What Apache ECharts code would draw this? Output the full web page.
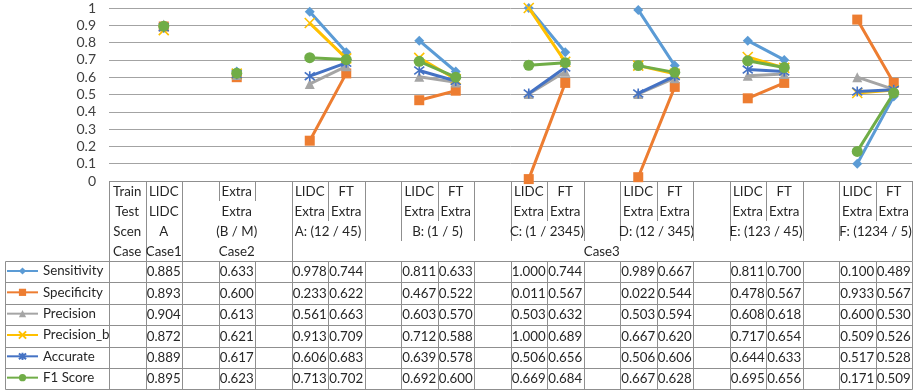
<!DOCTYPE html>
<html>
<head>
<meta charset="utf-8">
<script src="https://cdn.jsdelivr.net/npm/echarts@6/dist/echarts.min.js"></script>
<style>
  html, body { margin: 0; padding: 0; background: #fff; }
  #chart { width: 916px; height: 391px; }
</style>
</head>
<body>
<div id="chart"></div>
<script>
// Column headers of the data table, one entry per category slot
const trainRow = ['Train','LIDC','','Extra','','LIDC','FT','','LIDC','FT','','LIDC','FT','','LIDC','FT','','LIDC','FT','','LIDC','FT'];
// Merged header rows: [firstColumn, lastColumn, label]
const testGroups = [[0,0,'Test'],[1,1,'LIDC'],[2,4,'Extra'],[5,5,'Extra'],[6,6,'Extra'],[7,7,''],[8,8,'Extra'],[9,9,'Extra'],[10,10,''],[11,11,'Extra'],[12,12,'Extra'],[13,13,''],[14,14,'Extra'],[15,15,'Extra'],[16,16,''],[17,17,'Extra'],[18,18,'Extra'],[19,19,''],[20,20,'Extra'],[21,21,'Extra']];
const scenGroups = [[0,0,'Scen'],[1,1,'A'],[2,4,'(B / M)'],[5,6,'A: (12 / 45)'],[7,7,''],[8,9,'B: (1 / 5)'],[10,10,''],[11,12,'C: (1 / 2345)'],[13,13,''],[14,15,'D: (12 / 345)'],[16,16,''],[17,18,'E: (123 / 45)'],[19,19,''],[20,21,'F: (1234 / 5)']];
const caseGroups = [[0,0,'Case'],[1,1,'Case1'],[2,4,'Case2'],[5,21,'Case3']];

// Metric values per column (null = empty column)
const sensitivity = [null,0.885,null,0.633,null,0.978,0.744,null,0.811,0.633,null,1.000,0.744,null,0.989,0.667,null,0.811,0.700,null,0.100,0.489];
const specificity = [null,0.893,null,0.600,null,0.233,0.622,null,0.467,0.522,null,0.011,0.567,null,0.022,0.544,null,0.478,0.567,null,0.933,0.567];
const precision   = [null,0.904,null,0.613,null,0.561,0.663,null,0.603,0.570,null,0.503,0.632,null,0.503,0.594,null,0.608,0.618,null,0.600,0.530];
const precisionB  = [null,0.872,null,0.621,null,0.913,0.709,null,0.712,0.588,null,1.000,0.689,null,0.667,0.620,null,0.717,0.654,null,0.509,0.526];
const accurate    = [null,0.889,null,0.617,null,0.606,0.683,null,0.639,0.578,null,0.506,0.656,null,0.506,0.606,null,0.644,0.633,null,0.517,0.528];
const f1Score     = [null,0.895,null,0.623,null,0.713,0.702,null,0.692,0.600,null,0.669,0.684,null,0.667,0.628,null,0.695,0.656,null,0.171,0.509];

const seriesNames = ['Sensitivity','Specificity','Precision','Precision_b','Accurate','F1 Score'];
const seriesValues = [sensitivity, specificity, precision, precisionB, accurate, f1Score];
const seriesColors = ['#5B9BD5','#ED7D31','#A5A5A5','#FFC000','#4472C4','#70AD47'];
const seriesSymbols = [
  'diamond',
  'rect',
  'triangle',
  'path://M0,0L10,10M10,0L0,10',
  'path://M0,0L10,10M10,0L0,10M5,-1.5L5,11.5',
  'circle'
];
const symbolSizes = [10, 10, 10, 10, 10, 11];
const strokedSymbol = [false, false, false, true, true, false];

// Category keys for the x axis (labels are drawn in the table instead)
const categories = trainRow.map((t, i) => i + ':' + t);

const FONT = 'Lato, "Liberation Sans", sans-serif';
const FONT_SIZE = 13.3;
const TEXT_COLOR = '#262626';
const BORDER = '#8f8f8f';

const chart = echarts.init(document.getElementById('chart'), null, { renderer: 'canvas' });

const series = seriesNames.map((name, k) => ({
  name,
  type: 'line',
  data: seriesValues[k],
  connectNulls: false,
  showAllSymbol: true,
  symbol: seriesSymbols[k],
  symbolSize: symbolSizes[k],
  lineStyle: { color: seriesColors[k], width: 3 },
  itemStyle: strokedSymbol[k]
    ? { color: seriesColors[k], borderColor: seriesColors[k], borderWidth: 1.6 }
    : { color: seriesColors[k], borderWidth: 0 },
  emphasis: { disabled: true },
  animation: false,
  z: 2 + k
}));

chart.setOption({
  animation: false,
  backgroundColor: '#fff',
  grid: { left: 109, right: 4, top: 8, bottom: 210 },
  xAxis: {
    type: 'category',
    data: categories,
    boundaryGap: true,
    axisLine: { show: false },
    axisTick: { show: false },
    axisLabel: { show: false },
    splitLine: { show: false }
  },
  yAxis: {
    type: 'value',
    min: 0,
    max: 1,
    interval: 0.1,
    axisLine: { show: false },
    axisTick: { show: false },
    axisLabel: {
      margin: 13,
      color: '#404040',
      fontFamily: FONT,
      fontSize: 14,
      formatter: v => String(+v.toFixed(1))
    },
    splitLine: { lineStyle: { color: '#a3a3a3', width: 1 } }
  },
  legend: {
    orient: 'vertical',
    left: 6,
    top: 264,
    padding: 0,
    itemWidth: 31,
    itemHeight: 9,
    itemGap: 7.33,
    selectedMode: false,
    data: seriesNames,
    lineStyle: { width: 2 },
    textStyle: { fontFamily: FONT, fontSize: FONT_SIZE, color: TEXT_COLOR, lineHeight: 14 }
  },
  series
});

// Data table below the plot, laid out on the category axis
function drawTable() {
  const c0 = chart.convertToPixel({ xAxisIndex: 0 }, 0);
  const c1 = chart.convertToPixel({ xAxisIndex: 0 }, 1);
  const colW = c1 - c0;
  const left = i => c0 - colW / 2 + i * colW;
  const crisp = v => Math.round(v) + 0.5;
  const top = Math.round(chart.convertToPixel({ yAxisIndex: 0 }, 0));
  const headH = 20;
  const rowH = 21.4;
  const headerBottom = top + headH * 4;
  const tableBottom = headerBottom + rowH * seriesNames.length;
  const legendLeft = 5;
  const rightEdge = left(categories.length);
  const els = [];

  const line = (x1, y1, x2, y2) => els.push({
    type: 'line', silent: true,
    shape: { x1, y1, x2, y2 },
    style: { stroke: BORDER, lineWidth: 1 }
  });
  const text = (str, x, y) => els.push({
    type: 'text', silent: true,
    style: { text: str, x, y, align: 'center', verticalAlign: 'middle', fontFamily: FONT, fontSize: FONT_SIZE, fill: TEXT_COLOR }
  });

  // header rows
  const trainGroups = trainRow.map((t, i) => [i, i, t]);
  [trainGroups, testGroups, scenGroups, caseGroups].forEach((groups, r) => {
    const y0 = top + r * headH;
    groups.forEach(([a, b, label]) => {
      const xa = left(a), xb = left(b + 1);
      line(crisp(xa), y0, crisp(xa), y0 + headH);
      line(crisp(xb), y0, crisp(xb), y0 + headH);
      if (label) text(label, (xa + xb) / 2, y0 + headH / 2 + 1);
    });
  });
  line(crisp(left(0)), crisp(top), crisp(rightEdge), crisp(top));

  // value rows
  for (let r = 0; r <= seriesNames.length; r++) {
    const y = crisp(headerBottom + r * rowH);
    line(legendLeft + 0.5, y, crisp(rightEdge), y);
  }
  line(legendLeft + 0.5, crisp(headerBottom), legendLeft + 0.5, crisp(tableBottom));
  for (let i = 0; i <= categories.length; i++) {
    const x = crisp(left(i));
    line(x, crisp(headerBottom), x, crisp(tableBottom));
  }
  seriesValues.forEach((vals, r) => {
    const yc = headerBottom + r * rowH + rowH / 2 + 0.5;
    vals.forEach((v, i) => {
      if (v != null) text(v.toFixed(3), left(i) + colW / 2, yc);
    });
  });

  chart.setOption({ graphic: { elements: els } });
}
drawTable();
</script>
</body>
</html>
